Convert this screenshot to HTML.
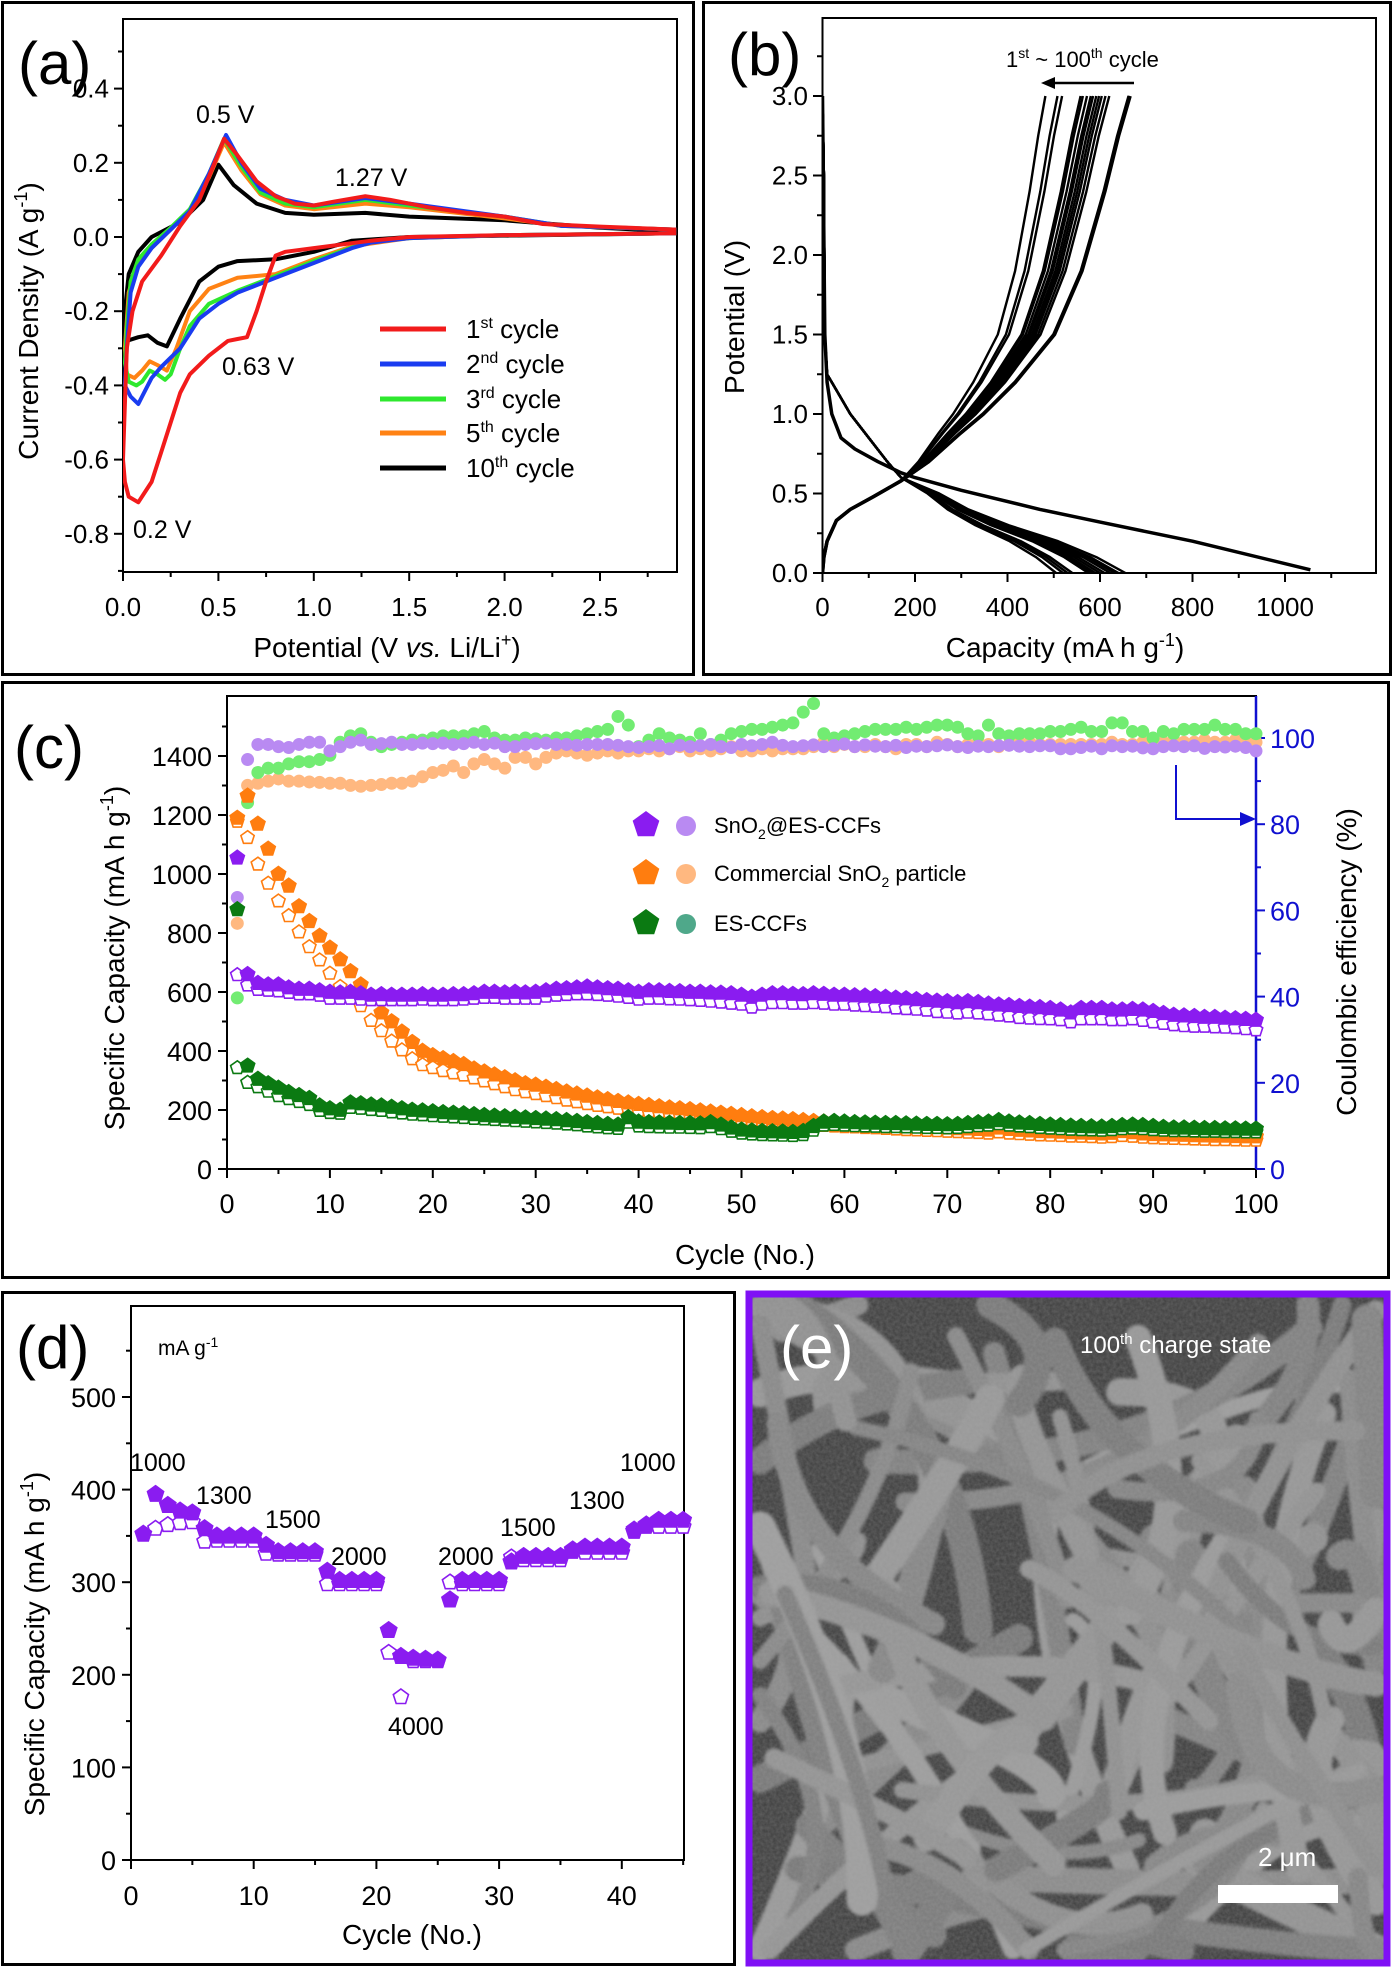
<!DOCTYPE html>
<html><head><meta charset="utf-8"><style>
html,body{margin:0;padding:0;background:#fff;width:1394px;height:1967px;overflow:hidden;}
svg{display:block;font-family:"Liberation Sans",sans-serif;overflow:hidden;}
</style></head><body>
<svg id="fig" xmlns="http://www.w3.org/2000/svg" width="1394" height="1967" viewBox="0 0 1394 1967">
<defs>
<clipPath id="clipE"><rect x="752" y="1297" width="632" height="664"/></clipPath>
<clipPath id="clipA"><rect x="123" y="19" width="554" height="553"/></clipPath>
<clipPath id="clipB"><rect x="822" y="18" width="554" height="556"/></clipPath>
<filter id="noise" x="0" y="0" width="100%" height="100%">
<feTurbulence type="fractalNoise" baseFrequency="0.3" numOctaves="2" seed="3"/>
<feColorMatrix type="matrix" values="0 0 0 0 0.45  0 0 0 0 0.45  0 0 0 0 0.45  0 0 0 0.3 0"/>
</filter>
<filter id="soft"><feGaussianBlur stdDeviation="1.5"/></filter>
</defs>
<rect x="2.5" y="2.5" width="691" height="672" fill="none" stroke="#000" stroke-width="3"/>
<rect x="703.5" y="2.5" width="687" height="672" fill="none" stroke="#000" stroke-width="3"/>
<rect x="2.5" y="682.5" width="1386" height="595" fill="none" stroke="#000" stroke-width="3"/>
<rect x="2.5" y="1292.5" width="732" height="672" fill="none" stroke="#000" stroke-width="3"/>

<g id="pa">
<rect x="123" y="19" width="554" height="553" fill="none" stroke="#000" stroke-width="2"/>
<text x="18" y="84" font-size="60">(a)</text>
<text x="387" y="657" font-size="28" text-anchor="middle">Potential (V <tspan font-style="italic">vs.</tspan> Li/Li<tspan font-size="18" dy="-11">+</tspan><tspan dy="11">)</tspan></text>
<text transform="translate(38,321) rotate(-90)" font-size="28" text-anchor="middle">Current  Density (A g<tspan font-size="18" dy="-11">-1</tspan><tspan dy="11">)</tspan></text>
<text x="196" y="123" font-size="25">0.5 V</text>
<text x="335" y="186" font-size="25">1.27 V</text>
<text x="222" y="375" font-size="25">0.63 V</text>
<text x="133" y="538" font-size="25">0.2 V</text>
<g font-size="26">
<line x1="380" y1="329" x2="446" y2="329" stroke="#f21b1b" stroke-width="5"/>
<text x="466" y="338">1<tspan font-size="16" dy="-10">st</tspan><tspan dy="10"> cycle</tspan></text>
<line x1="380" y1="364" x2="446" y2="364" stroke="#1a3cf0" stroke-width="5"/>
<text x="466" y="373">2<tspan font-size="16" dy="-10">nd</tspan><tspan dy="10"> cycle</tspan></text>
<line x1="380" y1="399" x2="446" y2="399" stroke="#2ee82e" stroke-width="5"/>
<text x="466" y="408">3<tspan font-size="16" dy="-10">rd</tspan><tspan dy="10"> cycle</tspan></text>
<line x1="380" y1="433" x2="446" y2="433" stroke="#ff8214" stroke-width="5"/>
<text x="466" y="442">5<tspan font-size="16" dy="-10">th</tspan><tspan dy="10"> cycle</tspan></text>
<line x1="380" y1="468" x2="446" y2="468" stroke="#000" stroke-width="5"/>
<text x="466" y="477">10<tspan font-size="16" dy="-10">th</tspan><tspan dy="10"> cycle</tspan></text>
</g>
</g>

<g id="pb">
<rect x="822.5" y="18" width="553.5" height="555" fill="none" stroke="#000" stroke-width="2"/>
<text x="728" y="75" font-size="60">(b)</text>
<text x="1065" y="657" font-size="28" text-anchor="middle">Capacity (mA h g<tspan font-size="18" dy="-11">-1</tspan><tspan dy="11">)</tspan></text>
<text transform="translate(744,317) rotate(-90)" font-size="28" text-anchor="middle">Potential (V)</text>
<text x="1006" y="67" font-size="22">1<tspan font-size="14" dy="-9">st</tspan><tspan dy="9"> ~ 100</tspan><tspan font-size="14" dy="-9">th</tspan><tspan dy="9"> cycle</tspan></text>
<line x1="1134" y1="83" x2="1052" y2="83" stroke="#000" stroke-width="2.5"/>
<polygon points="1041,83 1055,77 1055,89" fill="#000"/>
</g>

<g id="pc">
<rect x="227" y="696" width="1029" height="473" fill="none" stroke="#000" stroke-width="2"/>
<line x1="1256" y1="696" x2="1256" y2="1169" stroke="#1010d0" stroke-width="2.5"/>
<text x="14" y="768" font-size="60">(c)</text>
<text x="745" y="1264" font-size="28" text-anchor="middle">Cycle (No.)</text>
<text transform="translate(124,958) rotate(-90)" font-size="28" text-anchor="middle">Specific Capacity (mA h g<tspan font-size="18" dy="-11">-1</tspan><tspan dy="11">)</tspan></text>
<text transform="translate(1356,962) rotate(-90)" font-size="28" text-anchor="middle">Coulombic efficiency (%)</text>
<polyline points="1176,765 1176,819 1244,819" fill="none" stroke="#1010d0" stroke-width="2"/>
<polygon points="1256,819 1240,812 1240,826" fill="#1010d0"/>
<g font-size="22">
<text x="714" y="833">SnO<tspan font-size="14" dy="6">2</tspan><tspan dy="-6">@ES-CCFs</tspan></text>
<text x="714" y="881">Commercial SnO<tspan font-size="14" dy="6">2</tspan><tspan dy="-6"> particle</tspan></text>
<text x="714" y="931">ES-CCFs</text>
</g>
</g>

<g id="pd">
<rect x="131" y="1306" width="553" height="554" fill="none" stroke="#000" stroke-width="2"/>
<text x="16" y="1368" font-size="60">(d)</text>
<text x="158" y="1355" font-size="21">mA g<tspan font-size="14" dy="-8">-1</tspan></text>
<text x="412" y="1944" font-size="28" text-anchor="middle">Cycle (No.)</text>
<text transform="translate(44,1644) rotate(-90)" font-size="28" text-anchor="middle">Specific Capacity (mA h g<tspan font-size="18" dy="-11">-1</tspan><tspan dy="11">)</tspan></text>
<g font-size="25">
<text x="130" y="1471">1000</text>
<text x="196" y="1504">1300</text>
<text x="265" y="1528">1500</text>
<text x="331" y="1565">2000</text>
<text x="388" y="1735">4000</text>
<text x="438" y="1565">2000</text>
<text x="500" y="1536">1500</text>
<text x="569" y="1509">1300</text>
<text x="620" y="1471">1000</text>
</g>
</g>

<g id="pe">
<rect x="752" y="1297" width="632" height="664" fill="#3e3e3e"/>
<g id="fibers" clip-path="url(#clipE)" filter="url(#soft)"></g>
<rect x="752" y="1297" width="632" height="664" filter="url(#noise)"/>
<rect x="749" y="1294" width="638" height="669" fill="none" stroke="#7f10f5" stroke-width="7"/>
<text x="780" y="1368" font-size="60" fill="#fff">(e)</text>
<text x="1080" y="1353" font-size="24" fill="#fff">100<tspan font-size="15" dy="-9">th</tspan><tspan dy="9"> charge state</tspan></text>
<text x="1258" y="1866" font-size="26" fill="#fff">2 μm</text>
<rect x="1218" y="1885" width="120" height="18" fill="#fff"/>
</g>
</svg>
<script>
const cv1V = [2.9,2.0,1.5,1.3,1.0,0.85,0.8,0.75,0.7,0.65,0.6,0.55,0.45,0.35,0.3,0.25,0.2,0.15,0.08,0.03,0.01,0.0,0.02,0.05,0.1,0.2,0.3,0.4,0.48,0.53,0.6,0.7,0.8,0.9,1.0,1.1,1.27,1.4,1.6,1.8,2.0,2.2,2.5,2.9];
const cv1I = [0.01,0.005,0.0,-0.01,-0.03,-0.04,-0.05,-0.12,-0.2,-0.27,-0.275,-0.28,-0.32,-0.37,-0.42,-0.5,-0.58,-0.66,-0.715,-0.7,-0.66,-0.6,-0.3,-0.2,-0.12,-0.05,0.03,0.1,0.2,0.265,0.22,0.15,0.11,0.09,0.085,0.095,0.11,0.1,0.08,0.065,0.055,0.035,0.028,0.02];
const cv2V = [2.9,2.0,1.5,1.3,1.2,1.0,0.8,0.6,0.5,0.4,0.3,0.2,0.15,0.1,0.08,0.04,0.01,0.02,0.04,0.08,0.15,0.25,0.35,0.45,0.54,0.62,0.72,0.85,1.0,1.27,1.5,2.0,2.3,2.9];
const cv2I = [0.01,0.005,-0.003,-0.015,-0.03,-0.07,-0.11,-0.15,-0.18,-0.22,-0.3,-0.35,-0.38,-0.43,-0.45,-0.43,-0.4,-0.3,-0.15,-0.08,-0.03,0.02,0.07,0.17,0.275,0.2,0.13,0.1,0.085,0.105,0.09,0.055,0.03,0.02];
const cv3V = [2.9,2.0,1.5,1.3,1.2,1.0,0.8,0.6,0.45,0.35,0.3,0.25,0.22,0.18,0.14,0.1,0.07,0.03,0.01,0.02,0.04,0.08,0.15,0.25,0.35,0.45,0.53,0.62,0.72,0.85,1.0,1.27,1.5,2.0,2.3,2.9];
const cv3I = [0.01,0.005,-0.003,-0.013,-0.028,-0.065,-0.105,-0.145,-0.18,-0.24,-0.3,-0.37,-0.385,-0.37,-0.36,-0.39,-0.4,-0.39,-0.34,-0.25,-0.12,-0.06,-0.02,0.025,0.075,0.17,0.265,0.19,0.12,0.09,0.08,0.1,0.085,0.055,0.03,0.02];
const cv5V = [2.9,2.0,1.5,1.2,1.0,0.8,0.6,0.45,0.35,0.28,0.23,0.18,0.14,0.1,0.06,0.02,0.01,0.03,0.07,0.15,0.25,0.35,0.45,0.53,0.62,0.72,0.85,1.0,1.27,1.5,2.0,2.3,2.9];
const cv5I = [0.01,0.005,-0.003,-0.025,-0.06,-0.1,-0.11,-0.14,-0.2,-0.3,-0.36,-0.345,-0.335,-0.36,-0.38,-0.37,-0.3,-0.15,-0.08,-0.03,0.02,0.07,0.16,0.255,0.18,0.115,0.085,0.075,0.09,0.08,0.05,0.03,0.02];
const cv10V = [2.9,1.5,1.2,1.0,0.8,0.6,0.5,0.4,0.3,0.23,0.18,0.13,0.08,0.02,0.0,0.01,0.03,0.08,0.15,0.3,0.42,0.5,0.58,0.7,0.85,1.0,1.27,1.5,2.0,2.5,2.9];
const cv10I = [0.01,0.0,-0.01,-0.04,-0.06,-0.065,-0.08,-0.12,-0.22,-0.295,-0.285,-0.265,-0.27,-0.28,-0.28,-0.2,-0.1,-0.04,0.0,0.04,0.1,0.195,0.14,0.09,0.065,0.06,0.065,0.055,0.045,0.025,0.015];
const xTicksA = [0.0,0.5,1.0,1.5,2.0,2.5];
const yTicksA = [-0.8,-0.6,-0.4,-0.2,0.0,0.2,0.4];

const chargeEnd = [665,663,620,612,604,598,592,585,580,572,563,558,518,508,482];
const dischargeEnd = [655,640,632,622,610,600,590,582,575,540,530,520,505];
const firstDisCap = [0,5,10,20,40,70,120,170,200,300,470,600,800,1055];
const firstDisV   = [3.0,1.5,1.2,1.0,0.85,0.78,0.7,0.63,0.6,0.52,0.4,0.32,0.2,0.02];
const chgLowCap = [0,3,10,30,60,110,170];
const chgLowV   = [0,0.1,0.2,0.33,0.4,0.48,0.58];
const chgHighV    = [0.58,0.7,0.88,1.0,1.2,1.5,1.9,2.4,2.75,3.0];
const chgHighFrac = [0,0.12,0.26,0.36,0.5,0.67,0.79,0.89,0.95,1.0];
const disHighCap = [0,3,5,10,30,60,100,140,170];
const disHighV   = [3.0,2.5,1.5,1.25,1.15,1.0,0.85,0.7,0.6];
const disLowV    = [0.6,0.5,0.4,0.3,0.2,0.1,0.0];
const disLowFrac = [0,0.17,0.3,0.48,0.7,0.87,1.0];
const xTicksB = [0,200,400,600,800,1000];
const yTicksB = [0.0,0.5,1.0,1.5,2.0,2.5,3.0];

const snDis = [1055,660,630,625,625,615,610,610,605,600,598,600,595,590,592,590,590,590,592,590,590,592,592,595,600,600,598,600,598,600,605,610,612,615,618,615,612,610,605,600,605,605,603,602,600,600,598,597,595,590,583,590,595,595,593,592,595,593,590,590,588,587,585,583,580,578,575,572,570,568,565,568,565,560,557,555,552,550,548,545,540,530,545,545,545,540,540,542,540,535,528,522,520,518,515,515,512,510,508,505];
const snCha = [665,630,615,612,610,605,600,600,595,585,585,585,582,580,580,580,580,580,582,580,580,580,582,585,588,588,585,585,585,585,592,595,598,600,600,598,595,592,588,582,585,585,583,582,580,578,575,572,568,565,555,565,570,570,568,568,570,568,565,565,562,560,558,556,552,550,548,545,540,538,535,538,535,532,528,525,520,518,516,515,512,505,515,515,515,512,512,515,510,505,500,495,492,490,490,488,487,485,482,478];
const coDis = [1190,1265,1170,1085,1000,960,890,840,790,750,710,670,625,580,530,500,465,430,400,385,375,365,355,340,330,320,310,300,290,285,278,270,262,255,248,242,236,230,225,220,216,212,208,205,202,198,194,190,186,182,178,175,172,170,168,165,162,160,158,156,155,153,152,150,148,146,145,143,142,140,138,137,135,133,140,135,132,130,128,127,126,124,123,122,120,122,128,124,120,118,117,116,115,114,113,112,112,111,110,110];
const coCha = [1185,1130,1040,975,915,865,810,760,715,670,625,600,560,510,475,440,410,380,360,350,340,332,325,315,305,295,285,275,268,262,255,248,240,234,228,222,217,212,208,204,200,197,194,191,188,185,182,178,175,172,168,166,164,162,160,158,156,154,152,150,149,147,146,144,142,140,139,137,136,134,133,131,130,128,132,128,126,124,122,121,120,118,117,116,114,116,120,117,114,112,111,110,109,108,107,106,106,105,104,104];
const esDis = [880,350,305,290,275,260,250,240,215,205,200,225,222,218,215,210,205,200,198,195,192,190,188,185,182,180,178,176,174,172,170,168,165,162,158,155,152,150,175,160,158,157,156,155,155,154,158,150,140,133,130,128,127,126,125,128,145,160,162,160,158,157,156,155,155,154,153,152,152,151,152,155,158,160,165,160,157,155,152,150,148,146,145,144,143,145,148,150,148,145,142,140,140,139,138,138,137,137,136,136];
const esCha = [350,300,285,270,255,245,235,225,205,198,195,215,212,208,205,200,196,192,190,187,185,183,181,178,176,174,172,170,168,166,164,162,159,156,152,149,146,144,165,152,150,149,148,148,147,146,150,143,134,128,125,123,122,121,120,123,138,155,157,155,153,152,151,150,150,149,148,147,147,146,147,150,153,155,160,155,152,150,147,145,143,141,140,139,138,140,143,145,143,140,138,136,136,135,134,134,133,133,132,132];
const snCE = [63,95,98.5,98.5,98,97.8,98.5,99,99,97,98,99,99.5,98.5,98.7,99,98.5,98.5,98.8,98.7,98.8,98.5,98.7,99,98.5,98.8,98,98,98.5,98.7,98.8,98.5,98.5,98.3,98.5,98.5,98.5,98.3,98,97.8,98,98.2,97.5,98.3,98,98.2,98.5,98,97.8,98.5,98.2,98.5,99,98.3,98,98.2,98.4,98,98.3,98.6,98,98.4,98.1,98,98.3,97.8,98.1,98,98.2,98.4,98,97.8,98.1,98,98.2,98.3,98.1,98,98.2,98.2,97.5,97.5,97.8,98.1,97.5,98.2,98,98.1,97.7,97.5,98,98.2,98,98.2,97.6,98,97.9,98.1,97.8,97];
const coCE = [57,89,89.5,90,90.5,90,90,89.8,89.7,89.5,89.5,89,88.8,89,89.2,89.5,89.5,90,91,92,92.5,93.5,92,94,95,94,93,95.5,95.5,94,95.5,96.5,97,96.5,96,96.5,97,96.5,97,97,97.5,97,97.5,98,97,97.5,97,97.5,98,97,97,97.5,97,97.5,97.5,97.5,98,99,98,98.5,98,98,98.5,98,97.5,98.5,98.5,98,99,98.5,98,98.5,99,98.5,98,98.5,99,99,98.5,98.5,98.5,98.5,98.5,98.5,98.5,99,98.5,98.5,99,99,99,99.5,99,99,99.5,99,99,99.5,100,99];
const esCE = [39.7,85,92,93,93,94,94.5,94.5,95,96,99,100.5,101,99,98,98.5,99,99.5,99.5,100,100.5,100.5,100.5,101,101.5,100,99.5,99.5,100,99.8,99.5,100,100,100.5,101,101.5,102,105,103,98,99.5,101,100,99.5,99,101,98.5,99.5,101,101.5,102,102,102.5,103,103.5,106,108,101,100,100.5,101,101.5,102,102,102,102.5,102,102.5,103,103,102.5,101,100.5,103,101,100.5,101,101,101,101.5,101.5,102,102.5,101.5,101.5,103.5,103.5,101.5,101.5,100,101.5,101,102,102,102,103,102,102,101,101];
const xTicksC = [0,10,20,30,40,50,60,70,80,90,100];
const yTicksC = [0,200,400,600,800,1000,1200,1400];
const y2TicksC = [0,20,40,60,80,100];

const rateDis = [352,395,383,377,375,358,350,350,350,350,340,333,333,333,333,312,302,302,302,302,248,220,218,217,216,281,302,302,302,302,322,328,328,328,328,335,338,338,338,338,355,362,367,367,367];
const rateCha = [352,358,362,364,365,344,345,345,345,345,331,330,330,330,330,298,298,298,298,298,224,176,215,215,215,300,298,298,298,298,327,324,324,324,324,333,332,332,332,332,357,360,360,360,360];
const xTicksD = [0,10,20,30,40];
const yTicksD = [0,100,200,300,400,500];

const NS = "http://www.w3.org/2000/svg";
const svg = document.getElementById('fig');
function el(tag, attrs, parent) {
  const e = document.createElementNS(NS, tag);
  for (const k in attrs) e.setAttribute(k, attrs[k]);
  (parent || svg).appendChild(e);
  return e;
}
const xa = v => 123 + v * 190.8, ya = i => 237 - i * 371;
const xb = c => 822.5 + c * 0.4625, yb = v => 573 - v * 159;
const xc = n => 227 + n * 10.29, yc = c => 1169 - c * 0.295, yr = p => 1169 - p * 4.31;
const xd = n => 131 + n * 12.27, yd = c => 1860 - c * 0.926;

function tick(g, x1, y1, x2, y2, color, name) {
  const t = el('line', {x1, y1, x2, y2, stroke: color || '#000', 'stroke-width': 2}, g);
  
  
}
function label(g, x, y, s, size, anchor, color, name) {
  const t = el('text', {x, y, 'font-size': size, 'text-anchor': anchor, fill: color || '#000'}, g);
  t.textContent = s;
  
  
}
function pent(g, cx, cy, r, fill, stroke, name) {
  let pts = [];
  for (let k = 0; k < 5; k++) { const a = (-90 + 72 * k) * Math.PI / 180; pts.push((cx + r * Math.cos(a)).toFixed(1) + ',' + (cy + r * Math.sin(a)).toFixed(1)); }
  const p = el('polygon', {points: pts.join(' '), fill: fill, stroke: stroke, 'stroke-width': 1.6}, g);
  
  
  return p;
}

const ga = document.getElementById('pa');
xTicksA.forEach(v => { tick(ga, xa(v), 572, xa(v), 581, '#000', 'x-tick-a'); label(ga, xa(v), 616, v.toFixed(1), 26, 'middle', '#000', 'x-tick-label-a'); });
for (let v = 0.25; v < 2.9; v += 0.5) tick(ga, xa(v), 572, xa(v), 577, '#000', 'x-minor-tick-a');
yTicksA.forEach(v => { tick(ga, 123, ya(v), 114, ya(v), '#000', 'y-tick-a'); label(ga, 109, ya(v) + 9, v.toFixed(1), 26, 'end', '#000', 'y-tick-label-a'); });
for (let v = -0.9; v < 0.58; v += 0.2) tick(ga, 123, ya(v), 118, ya(v), '#000', 'y-minor-tick-a');
const cvSeries = [[cv10V, cv10I, '#000', 'cv-10th-cycle'], [cv5V, cv5I, '#ff8214', 'cv-5th-cycle'], [cv3V, cv3I, '#2ee82e', 'cv-3rd-cycle'], [cv2V, cv2I, '#1a3cf0', 'cv-2nd-cycle'], [cv1V, cv1I, '#f21b1b', 'cv-1st-cycle']];
const gaLines = el('g', {'clip-path': 'url(#clipA)'}, ga);
cvSeries.forEach(s => {
  const d = s[0].map((v, i) => (i ? 'L' : 'M') + xa(v).toFixed(1) + ',' + ya(s[1][i]).toFixed(1)).join('');
  const p = el('path', {d, fill: 'none', stroke: s[2], 'stroke-width': 4, 'stroke-linejoin': 'round'}, gaLines);
  
  
});

const gb = document.getElementById('pb');
xTicksB.forEach(v => { tick(gb, xb(v), 573, xb(v), 582, '#000', 'x-tick-b'); label(gb, xb(v), 616, String(v), 26, 'middle', '#000', 'x-tick-label-b'); });
for (let v = 100; v < 1200; v += 200) tick(gb, xb(v), 573, xb(v), 578, '#000', 'x-minor-tick-b');
yTicksB.forEach(v => { tick(gb, 822.5, yb(v), 813, yb(v), '#000', 'y-tick-b'); label(gb, 808, yb(v) + 9, v.toFixed(1), 26, 'end', '#000', 'y-tick-label-b'); });
for (let v = 0.25; v < 3.5; v += 0.5) tick(gb, 822.5, yb(v), 817, yb(v), '#000', 'y-minor-tick-b');
const gbLines = el('g', {'clip-path': 'url(#clipB)'}, gb);
function drawPath(pts, name, w) {
  const d = pts.map((p, i) => (i ? 'L' : 'M') + xb(p[0]).toFixed(1) + ',' + yb(p[1]).toFixed(1)).join('');
  const p = el('path', {d, fill: 'none', stroke: '#000', 'stroke-width': w, 'stroke-linejoin': 'round'}, gbLines);
  
  
}
drawPath(firstDisCap.map((c, i) => [c, firstDisV[i]]), 'discharge-curve-1st', 3.5);
dischargeEnd.forEach((D, k) => {
  const pts = disHighCap.map((c, i) => [c, disHighV[i]]);
  disLowV.forEach((v, i) => pts.push([170 + (D - 170) * disLowFrac[i], v]));
  drawPath(pts, 'discharge-curve', 2.4);
});
chargeEnd.forEach((C, k) => {
  const pts = chgLowCap.map((c, i) => [c, chgLowV[i]]);
  chgHighV.forEach((v, i) => pts.push([170 + (C - 170) * chgHighFrac[i], v]));
  drawPath(pts, 'charge-curve', k < 2 ? 3.5 : 2.4);
});

const gc = document.getElementById('pc');
xTicksC.forEach(v => { tick(gc, xc(v), 1169, xc(v), 1178, '#000', 'x-tick-c'); label(gc, xc(v), 1213, String(v), 27, 'middle', '#000', 'x-tick-label-c'); });
for (let v = 5; v < 100; v += 10) tick(gc, xc(v), 1169, xc(v), 1174, '#000', 'x-minor-tick-c');
yTicksC.forEach(v => { tick(gc, 227, yc(v), 218, yc(v), '#000', 'y-tick-c'); label(gc, 212, yc(v) + 10, String(v), 27, 'end', '#000', 'y-tick-label-c'); });
for (let v = 100; v < 1600; v += 200) tick(gc, 227, yc(v), 222, yc(v), '#000', 'y-minor-tick-c');
y2TicksC.forEach(v => { tick(gc, 1256, yr(v), 1265, yr(v), '#1010d0', 'y2-tick-c'); label(gc, 1270, yr(v) + 10, String(v), 27, 'start', '#1010d0', 'y2-tick-label-c'); });
for (let v = 10; v < 110; v += 20) tick(gc, 1256, yr(v), 1261, yr(v), '#1010d0', 'y2-minor-tick-c');
function ceDots(arr, color, name) {
  arr.forEach((v, i) => {
    const c = el('circle', {cx: xc(i + 1), cy: yr(v), r: 6.5, fill: color, stroke: 'none'}, gc);
    
    
  });
}
ceDots(coCE, '#ffb880', 'ce-point-commercial');
ceDots(esCE, '#72ec72', 'ce-point-es-ccfs');
ceDots(snCE, '#b98af2', 'ce-point-sno2-es-ccfs');
function capMarks(dis, cha, color, nd, nc) {
  cha.forEach((v, i) => pent(gc, xc(i + 1), yc(v) + 2, 7, '#fff', color, nc));
  dis.forEach((v, i) => pent(gc, xc(i + 1), yc(v), 7.5, color, color, nd));
}
capMarks(coDis, coCha, '#ff7d0f', 'discharge-point-commercial', 'charge-point-commercial');
capMarks(snDis, snCha, '#8a1cf0', 'discharge-point-sno2-es-ccfs', 'charge-point-sno2-es-ccfs');
capMarks(esDis, esCha, '#0b7a12', 'discharge-point-es-ccfs', 'charge-point-es-ccfs');
pent(gc, 646, 825, 13, '#8a1cf0', '#8a1cf0', 'legend-marker-sno2-discharge');
pent(gc, 646, 873, 13, '#ff7d0f', '#ff7d0f', 'legend-marker-commercial-discharge');
pent(gc, 646, 923, 13, '#0b7a12', '#0b7a12', 'legend-marker-es-discharge');
const lc1 = el('circle', {cx: 686, cy: 826, r: 10, fill: '#b98af2'}, gc);


const lc2 = el('circle', {cx: 686, cy: 874, r: 10, fill: '#ffb880'}, gc);


const lc3 = el('circle', {cx: 686, cy: 924, r: 10, fill: '#4fa88a'}, gc);



const gd = document.getElementById('pd');
xTicksD.forEach(v => { tick(gd, xd(v), 1860, xd(v), 1869, '#000', 'x-tick-d'); label(gd, xd(v), 1905, String(v), 27, 'middle', '#000', 'x-tick-label-d'); });
for (let v = 5; v <= 45; v += 10) tick(gd, xd(v), 1860, xd(v), 1865, '#000', 'x-minor-tick-d');
yTicksD.forEach(v => { tick(gd, 131, yd(v), 122, yd(v), '#000', 'y-tick-d'); label(gd, 116, yd(v) + 10, String(v), 27, 'end', '#000', 'y-tick-label-d'); });
for (let v = 50; v < 600; v += 100) tick(gd, 131, yd(v), 126, yd(v), '#000', 'y-minor-tick-d');
rateCha.forEach((v, i) => pent(gd, xd(i + 1), yd(v), 8, '#fff', '#8a1cf0', 'rate-charge-point'));
rateDis.forEach((v, i) => pent(gd, xd(i + 1), yd(v), 8.5, '#8a1cf0', '#8a1cf0', 'rate-discharge-point'));

// SEM fiber texture (decorative) - kept inside the panel bounds
const gf = document.getElementById('fibers');
let seed = 11;
function rnd() { seed = (seed * 16807) % 2147483647; return seed / 2147483647; }
const clampX = v => Math.max(760, Math.min(1376, v)), clampY = v => Math.max(1305, Math.min(1950, v));
for (let k = 0; k < 110; k++) {
  const x0 = 752 + rnd() * 632, y0 = 1297 + rnd() * 664;
  const ang = rnd() * Math.PI * 2, len = 120 + rnd() * 380;
  const x1 = clampX(x0 + Math.cos(ang) * len), y1 = clampY(y0 + Math.sin(ang) * len);
  const cx = clampX((x0 + x1) / 2 + (rnd() - 0.5) * 180), cy = clampY((y0 + y1) / 2 + (rnd() - 0.5) * 180);
  const w = 14 + rnd() * 18, g = Math.round(118 + rnd() * 40);
  const p = el('path', {d: `M${clampX(x0).toFixed(0)},${clampY(y0).toFixed(0)} Q${cx.toFixed(0)},${cy.toFixed(0)} ${x1.toFixed(0)},${y1.toFixed(0)}`, fill: 'none', stroke: `rgb(${g},${g},${g})`, 'stroke-width': w.toFixed(1), 'stroke-linecap': 'round'}, gf);
  
  
}
</script>
</body></html>
